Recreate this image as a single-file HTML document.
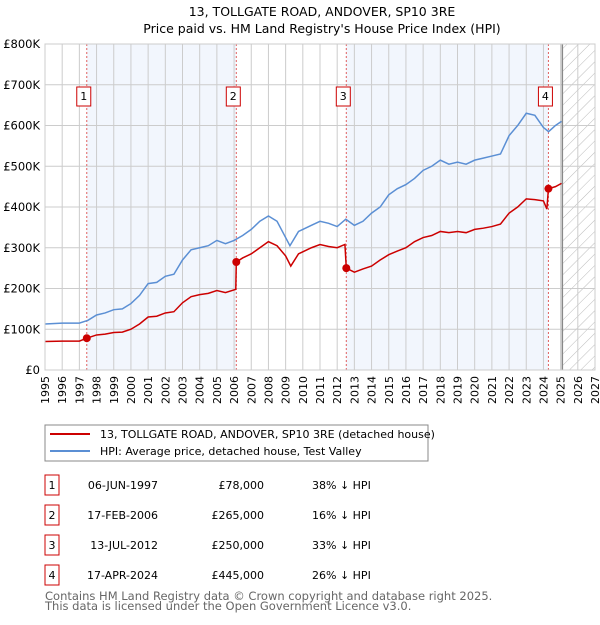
<!DOCTYPE html>
<html><head><meta charset="utf-8"><style>
body{margin:0;background:#fff;}
svg text{font-family:"DejaVu Sans","Liberation Sans",sans-serif;}
</style></head><body>
<svg id="c" width="600" height="620" xmlns="http://www.w3.org/2000/svg">
<defs><pattern id="hatch" width="8" height="8" patternUnits="userSpaceOnUse" patternTransform="rotate(45)"><line x1="0" y1="0" x2="0" y2="8" stroke="#bbb" stroke-width="1"/></pattern></defs>
<text x="322" y="16" font-size="12.5" text-anchor="middle">13, TOLLGATE ROAD, ANDOVER, SP10 3RE</text>
<text x="322" y="33" font-size="12.5" text-anchor="middle">Price paid vs. HM Land Registry's House Price Index (HPI)</text>
<g id="plot"></g>
<rect x="45" y="425" width="383" height="36" fill="#fff" stroke="#888"/>
<line x1="50" y1="434" x2="90" y2="434" stroke="#cc0000" stroke-width="2"/>
<text x="100" y="438" font-size="11">13, TOLLGATE ROAD, ANDOVER, SP10 3RE (detached house)</text>
<line x1="50" y1="451" x2="90" y2="451" stroke="#5b8fd4" stroke-width="2"/>
<text x="100" y="455" font-size="11">HPI: Average price, detached house, Test Valley</text>
<g id="table" font-size="11"></g>
<text x="45" y="600" font-size="11.5" fill="#666">Contains HM Land Registry data © Crown copyright and database right 2025.</text>
<text x="45" y="610" font-size="11.5" fill="#666">This data is licensed under the Open Government Licence v3.0.</text>
</svg>
<script>
const hpiYears=[1995,1996,1997,1997.5,1998,1998.5,1999,1999.5,2000,2000.5,2001,2001.5,2002,2002.5,2003,2003.5,2004,2004.5,2005,2005.5,2006,2006.5,2007,2007.5,2008,2008.5,2009,2009.25,2009.75,2010,2010.5,2011,2011.5,2012,2012.5,2013,2013.5,2014,2014.5,2015,2015.5,2016,2016.5,2017,2017.5,2018,2018.5,2019,2019.5,2020,2020.5,2021,2021.5,2022,2022.5,2023,2023.5,2024,2024.3,2024.7,2025.05];
const hpiValues=[113,115,115,122,135,140,148,150,163,183,212,215,230,235,270,295,300,305,318,310,318,330,345,365,378,365,325,305,340,345,355,365,360,352,370,355,365,385,400,430,445,455,470,490,500,515,505,510,505,515,520,525,530,575,600,630,625,595,585,600,610];
const propYears=[1995,1996,1997,1997.43,1998,1998.5,1999,1999.5,2000,2000.5,2001,2001.5,2002,2002.5,2003,2003.5,2004,2004.5,2005,2005.5,2006.1,2006.13,2006.5,2007,2007.5,2008,2008.5,2009,2009.3,2009.75,2010,2010.5,2011,2011.5,2012,2012.45,2012.53,2013,2013.5,2014,2014.5,2015,2015.5,2016,2016.5,2017,2017.5,2018,2018.5,2019,2019.5,2020,2020.5,2021,2021.5,2022,2022.5,2023,2023.5,2024,2024.2,2024.29,2024.7,2025.05];
const propValues=[70,71,71,78,86,88,92,93,100,113,130,132,140,143,165,180,185,188,195,190,198,265,275,285,300,315,305,280,255,285,290,300,308,303,300,308,250,240,248,255,270,283,292,300,315,325,330,340,337,340,337,345,348,352,358,385,400,420,418,415,395,445,450,458];
const saleYears=[1997.43,2006.13,2012.53,2024.29];
const saleValues=[78,265,250,445];
const saleLabels=["1","2","3","4"];
const saleDates=["06-JUN-1997","17-FEB-2006","13-JUL-2012","17-APR-2024"];
const salePrices=["£78,000","£265,000","£250,000","£445,000"];
const salePcts=["38% ↓ HPI","16% ↓ HPI","33% ↓ HPI","26% ↓ HPI"];
const yTicks=[0,100,200,300,400,500,600,700,800];
const yTickLabels=["£0","£100K","£200K","£300K","£400K","£500K","£600K","£700K","£800K"];
const xTicks=[1995,1996,1997,1998,1999,2000,2001,2002,2003,2004,2005,2006,2007,2008,2009,2010,2011,2012,2013,2014,2015,2016,2017,2018,2019,2020,2021,2022,2023,2024,2025,2026,2027];
const dataEnd=2025.1;

const X0=45,X1=595,Y0=370,Y1=44;
const x=v=>X0+(v-1995)/(2027-1995)*(X1-X0);
const y=v=>Y0-v/800*(Y0-Y1);
const NS="http://www.w3.org/2000/svg";
const plot=document.getElementById('plot');
function mk(tag,attrs,parent){const e=document.createElementNS(NS,tag);for(const k in attrs)e.setAttribute(k,attrs[k]);(parent||plot).appendChild(e);return e;}

for(let i=0;i<saleYears.length;i+=2){
  const b=mk('rect',{x:x(saleYears[i]),y:Y1,width:x(saleYears[i+1])-x(saleYears[i]),height:Y0-Y1,fill:'#eef3fc',opacity:0.75});
  
  
}
const h=mk('rect',{x:x(dataEnd),y:Y1,width:X1-x(dataEnd),height:Y0-Y1,fill:'url(#hatch)'});


xTicks.forEach(t=>{
  const l=mk('line',{x1:x(t),x2:x(t),y1:Y1,y2:Y0,stroke:'#ccc'});
  
  
  const tx=mk('text',{x:0,y:0,'font-size':11,'text-anchor':'end',transform:`translate(${x(t)+4},${Y0+6}) rotate(-90)`});
  tx.textContent=t;
  
  
});
yTicks.forEach((t,i)=>{
  const l=mk('line',{x1:X0,x2:X1,y1:y(t),y2:y(t),stroke:'#ccc'});
  
  
  const tx=mk('text',{x:X0-5,y:y(t)+4,'font-size':11.5,'text-anchor':'end'});
  tx.textContent=yTickLabels[i];
  
  
});
const dl=mk('line',{x1:x(dataEnd),x2:x(dataEnd),y1:Y1,y2:Y0,stroke:'#888','stroke-width':1.5});


saleYears.forEach((s,i)=>{
  const l=mk('line',{x1:x(s),x2:x(s),y1:Y1,y2:Y0,stroke:'#e06060','stroke-dasharray':'2,2'});
  
  
  const bc=x(s)-3;
  const r=mk('rect',{x:bc-7,y:87,width:14,height:19,fill:'#fff',stroke:'#cc0000'});
  
  
  const t=mk('text',{x:bc,y:100,'font-size':11,'text-anchor':'middle'});
  t.textContent=saleLabels[i];
  
  
});
const hp=mk('polyline',{points:hpiYears.map((v,i)=>x(v)+','+y(hpiValues[i])).join(' '),fill:'none',stroke:'#5b8fd4','stroke-width':1.5});


const pp=mk('polyline',{points:propYears.map((v,i)=>x(v)+','+y(propValues[i])).join(' '),fill:'none',stroke:'#cc0000','stroke-width':1.5});


saleYears.forEach((s,i)=>{
  const c=mk('circle',{cx:x(s),cy:y(saleValues[i]),r:4,fill:'#cc0000'});
  
  
});
const ax=mk('rect',{x:X0,y:Y1,width:X1-X0,height:Y0-Y1,fill:'none',stroke:'#ccc'});


const tb=document.getElementById('table');
saleLabels.forEach((lab,i)=>{
  const ty=475+i*30;
  const r=mk('rect',{x:45,y:ty,width:14,height:20,fill:'#fff',stroke:'#cc0000'},tb);
  
  
  const vals=[[52,lab,'middle'],[158,saleDates[i],'end'],[264,salePrices[i],'end'],[312,salePcts[i],'start']];
  const names=['table-index','table-date','table-price','table-hpi-diff'];
  vals.forEach((v,j)=>{
    const t=mk('text',{x:v[0],y:ty+14,'text-anchor':v[2]},tb);
    t.textContent=v[1];
    
    
  });
});
</script>
</body></html>
